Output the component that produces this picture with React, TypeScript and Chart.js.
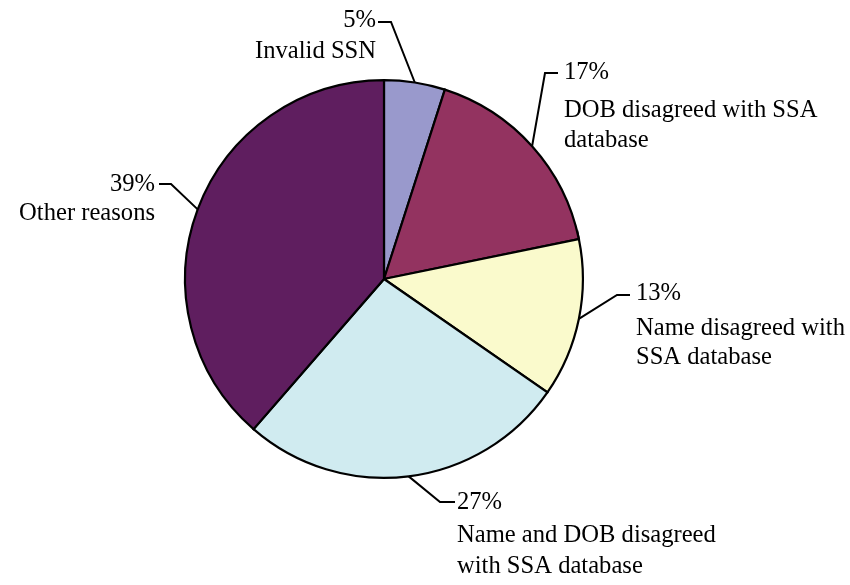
import React, { useEffect, useRef } from "react";
import { Chart, registerables } from "chart.js";

Chart.register(...registerables);

const categories = [
  "Invalid SSN",
  "DOB disagreed with SSA database",
  "Name disagreed with SSA database",
  "Name and DOB disagreed with SSA database",
  "Other reasons",
];
const values = [5, 17, 13, 27, 39];
const percentLabels = ["5%", "17%", "13%", "27%", "39%"];
const labelLines = [
  ["Invalid SSN"],
  ["DOB disagreed with SSA", "database"],
  ["Name disagreed with", "SSA database"],
  ["Name and DOB disagreed", "with SSA database"],
  ["Other reasons"],
];
const colors = ["#9999cc", "#933360", "#fafacc", "#d0ebf0", "#5f1e5f"];

// label layout (leader elbow, horizontal end, text anchor, baselines)
const labelLayout = [
  { elbowX: 391, elbowY: 22, endX: 378, textX: 376, align: "right", baselines: [27, 58] },
  { elbowX: 545, elbowY: 73, endX: 558, textX: 564, align: "left", baselines: [79, 117, 147] },
  { elbowX: 617, elbowY: 295, endX: 630, textX: 636, align: "left", baselines: [300, 335, 364] },
  { elbowX: 440, elbowY: 502, endX: 455, textX: 457, align: "left", baselines: [509, 542, 573] },
  { elbowX: 171, elbowY: 184, endX: 159, textX: 155, align: "right", baselines: [191, 220] },
];

const FONT = '24.6px "Liberation Serif", "Times New Roman", serif';

const leaderPlugin = {
  id: "leaderLabels",
  afterDraw(chart: any) {
    const ctx = chart.ctx;
    const meta = chart.getDatasetMeta(0);
    ctx.save();
    ctx.strokeStyle = "#000";
    ctx.lineWidth = 2;
    ctx.fillStyle = "#000";
    ctx.font = FONT;
    ctx.textBaseline = "alphabetic";
    meta.data.forEach((arc: any, i: number) => {
      const { x, y, startAngle, endAngle, outerRadius } = arc.getProps(
        ["x", "y", "startAngle", "endAngle", "outerRadius"],
        true
      );
      const mid = (startAngle + endAngle) / 2;
      const sx = x + Math.cos(mid) * outerRadius;
      const sy = y + Math.sin(mid) * outerRadius;
      const L = labelLayout[i];
      ctx.beginPath();
      ctx.moveTo(sx, sy);
      ctx.lineTo(L.elbowX, L.elbowY);
      ctx.lineTo(L.endX, L.elbowY);
      ctx.stroke();
      ctx.textAlign = L.align;
      const lines = [percentLabels[i], ...labelLines[i]];
      lines.forEach((t, k) => {
        ctx.fillText(t, L.textX, L.baselines[k]);
      });
    });
    ctx.restore();
  },
};

export default function App() {
  const ref = useRef<HTMLCanvasElement>(null);
  useEffect(() => {
    if (!ref.current) return;
    const chart = new Chart(ref.current, {
      type: "pie",
      data: {
        labels: categories,
        datasets: [
          {
            data: values,
            backgroundColor: colors,
            borderColor: "#000",
            borderWidth: 2.2,
            borderJoinStyle: "miter",
          },
        ],
      },
      options: {
        responsive: false,
        animation: false,
        events: [],
        layout: { padding: { left: 184, right: 266, top: 79, bottom: 106 } },
        plugins: {
          legend: { display: false },
          tooltip: { enabled: false },
          title: { display: false },
        },
      },
      plugins: [leaderPlugin],
    } as any);
    return () => chart.destroy();
  }, []);
  return (
    <div style={{ position: "absolute", left: 0, top: 0, width: 850, height: 585, background: "#fff" }}>
      <canvas ref={ref} width={850} height={585} />
    </div>
  );
}
